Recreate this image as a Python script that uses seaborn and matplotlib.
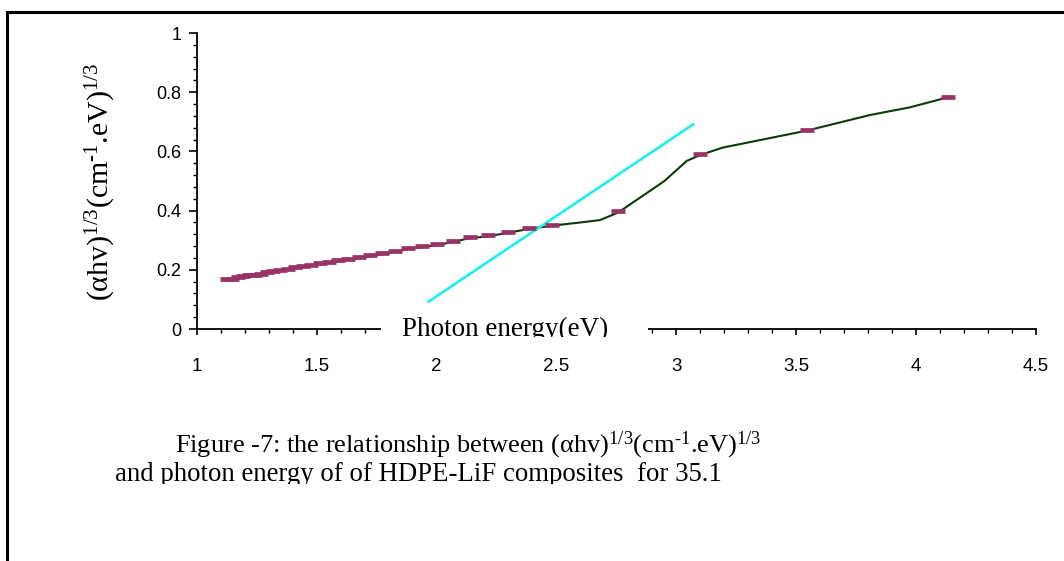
import numpy as np
import pandas as pd
import seaborn as sns
import matplotlib.pyplot as plt
from matplotlib.patches import Rectangle
from matplotlib.ticker import MultipleLocator

# measured points (photon energy in eV, (ahv)^1/3)
energy = [1.127, 1.148, 1.170, 1.192, 1.216, 1.240, 1.265, 1.292, 1.319, 1.348,
          1.378, 1.409, 1.442, 1.476, 1.512, 1.550, 1.590, 1.632, 1.676, 1.722,
          1.771, 1.824, 1.879, 1.938, 2.000, 2.067, 2.138, 2.214, 2.296, 2.385,
          2.480, 2.756, 3.100, 3.543, 4.133]
ahv = [0.168, 0.170, 0.174, 0.178, 0.181, 0.184, 0.187, 0.191, 0.196, 0.200,
       0.204, 0.209, 0.213, 0.217, 0.222, 0.227, 0.232, 0.237, 0.243, 0.249,
       0.256, 0.264, 0.274, 0.281, 0.287, 0.298, 0.311, 0.317, 0.329, 0.342,
       0.353, 0.399, 0.592, 0.672, 0.785]

# smoothed curve drawn under the markers
curve_energy = [1.127, 1.148, 1.170, 1.192, 1.216, 1.240, 1.265, 1.292, 1.319, 1.348,
                1.378, 1.409, 1.442, 1.476, 1.512, 1.550, 1.590, 1.632, 1.676, 1.722,
                1.771, 1.824, 1.879, 1.938, 2.000, 2.067, 2.138, 2.214, 2.296, 2.385,
                2.480, 2.600, 2.681, 2.756, 2.834, 2.950, 3.043, 3.100, 3.194, 3.543,
                3.808, 3.975, 4.133]
curve_ahv = [0.163, 0.166, 0.170, 0.174, 0.177, 0.180, 0.183, 0.187, 0.192, 0.196,
             0.200, 0.205, 0.209, 0.213, 0.218, 0.223, 0.228, 0.233, 0.239, 0.245,
             0.252, 0.260, 0.270, 0.277, 0.283, 0.294, 0.307, 0.313, 0.325, 0.338,
             0.349, 0.360, 0.368, 0.393, 0.436, 0.500, 0.568, 0.588, 0.613, 0.670,
             0.723, 0.749, 0.783]

# tangent used for the gap estimate
fit_energy = [1.965, 3.071]
fit_ahv = [0.092, 0.692]

x_ticks = [1, 1.5, 2, 2.5, 3, 3.5, 4, 4.5]
x_tick_labels = ['1', '1.5', '2', '2.5', '3', '3.5', '4', '4.5']
y_ticks = [0, 0.2, 0.4, 0.6, 0.8, 1]
y_tick_labels = ['0', '0.2', '0.4', '0.6', '0.8', '1']

sns.set_style('white')
plt.rcParams['font.family'] = ['Liberation Sans', 'DejaVu Sans']
plt.rcParams['text.color'] = 'black'
plt.rcParams['mathtext.fontset'] = 'custom'
plt.rcParams['mathtext.rm'] = 'Liberation Serif'
plt.rcParams['mathtext.it'] = 'Liberation Serif:italic'

W, H = 1064, 561
fig = plt.figure(figsize=(W / 100, H / 100), dpi=100)
ax = fig.add_axes([197 / W, 1 - 329 / H, (1036 - 197) / W, (329 - 33) / H])

curve = pd.DataFrame({'energy': curve_energy, 'ahv': curve_ahv})
sns.lineplot(data=curve, x='energy', y='ahv', sort=False, estimator=None,
             color='#0b3a0b', linewidth=1.5, ax=ax, zorder=2)
fit = pd.DataFrame({'energy': fit_energy, 'ahv': fit_ahv})
sns.lineplot(data=fit, x='energy', y='ahv', sort=False, estimator=None,
             color='#19f0f0', linewidth=1.9, ax=ax, zorder=3)
pts = pd.DataFrame({'energy': energy, 'ahv': ahv})
sns.scatterplot(data=pts, x='energy', y='ahv', marker='_', s=100,
                color='#993366', linewidth=3.4, ax=ax, zorder=4)

ax.set_xlim(1, 4.5)
ax.set_ylim(0, 1)
ax.set_xticks(x_ticks)
ax.set_xticklabels(x_tick_labels)
ax.set_yticks(y_ticks)
ax.set_yticklabels(y_tick_labels)
ax.xaxis.set_minor_locator(MultipleLocator(0.1))
ax.yaxis.set_minor_locator(MultipleLocator(0.04))
for s in ['top', 'right']:
    ax.spines[s].set_visible(False)
for s in ['left', 'bottom']:
    ax.spines[s].set_color('black')
    ax.spines[s].set_linewidth(1.3)
ax.tick_params(axis='x', which='both', bottom=True, colors='black')
ax.tick_params(axis='y', which='both', left=True, colors='black')
ax.tick_params(axis='x', which='major', direction='out', length=4, width=1.2, pad=17, labelsize=13.5)
ax.tick_params(axis='x', which='minor', direction='out', length=3, width=1.0)
ax.tick_params(axis='y', which='major', direction='out', length=6, width=1.2, pad=5, labelsize=13)
ax.tick_params(axis='y', which='minor', direction='out', length=3, width=1.0)
ax.set_xlabel('')
ax.set_ylabel('')

# y-axis title
fig.text(101 / W, 1 - 182 / H,
         r'($\mathrm{\alpha}$hv)$^{1/3}$(cm$^{\text{-}1}$.eV)$^{1/3}$',
         rotation=90, ha='center', va='center', fontsize=21.5,
         family='Liberation Serif')

# x-axis title sitting on a white box over the axis line
box = Rectangle((381 / W, 1 - 337 / H), (648 - 381) / W, 25 / H,
                transform=fig.transFigure, facecolor='white', edgecolor='none', zorder=5)
fig.patches.append(box)
t = fig.text(402 / W, 1 - 336 / H, 'Photon energy(eV)', ha='left', va='baseline',
             fontsize=19.5, family='Liberation Serif', zorder=6)
t.set_clip_path(box)

# caption
cap_clip = Rectangle((0, 1 - 484 / H), 1, 100 / H, transform=fig.transFigure,
                     facecolor='none', edgecolor='none')
fig.patches.append(cap_clip)
c1 = fig.text(175 / W, 1 - 452 / H,
              r'Figure -7: the relationship between ($\mathrm{\alpha}$hv)$^{1/3}$(cm$^{\text{-}1}$.eV)$^{1/3}$',
              ha='left', va='baseline', fontsize=19, family='Liberation Serif')
c2 = fig.text(115 / W, 1 - 481 / H,
              'and photon energy of of HDPE-LiF composites  for 35.1',
              ha='left', va='baseline', fontsize=19.3, family='Liberation Serif')
c2.set_clip_path(cap_clip)

# page frame
frame = Rectangle((7 / W, -0.1), 1.2, 1.1 - 12 / H, transform=fig.transFigure,
                  facecolor='none', edgecolor='black', linewidth=2.2, zorder=10)
fig.patches.append(frame)

fig.savefig('out.png', dpi=100)
